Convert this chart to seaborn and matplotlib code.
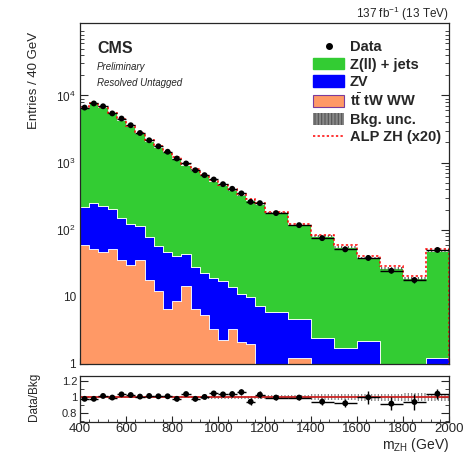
import numpy as np
import pandas as pd
import matplotlib
matplotlib.use("Agg")
import matplotlib.pyplot as plt
import seaborn as sns
from matplotlib.patches import Patch
from matplotlib.lines import Line2D
from matplotlib.ticker import LogLocator, NullFormatter, FixedLocator, MultipleLocator, FuncFormatter

# ---------------- data ----------------
bin_edges = [400, 440, 480, 520, 560, 600, 640, 680, 720, 760, 800, 840, 880, 920,
             960, 1000, 1040, 1080, 1120, 1160, 1200, 1300, 1400, 1500, 1600,
             1700, 1800, 1900, 2000]

data = [6600, 7600, 6900, 5400, 4530, 3600, 2760, 2150, 1750, 1450, 1150, 970,
        770, 650, 560, 477, 407, 348, 260, 249, 177, 117, 75, 51, 38, 24.5, 17.8, 50]

zjets = [6516, 7509, 6563, 5213, 4220, 3378, 2628, 2036, 1673, 1383, 1134, 892,
         757, 624, 516, 443, 377, 316, 265, 234, 172, 112, 77, 53, 36, 25.8, 18.2, 46.8]

zv = [159, 195, 180, 155, 114, 92, 76, 61, 44.6, 40.4, 32.4, 28.5, 21.5, 17.7,
      15.5, 14.9, 10.7, 8.85, 7.8, 6.7, 5.5, 3.46, 2.1, 1.45, 1.9, 0.5, 0.5, 0.94]

ttbar = [60, 51, 47, 52, 36, 30, 36, 18, 12.4, 6.6, 8.6, 14.5, 6.5, 5.3, 3.3, 2.3,
         3.3, 2.15, 2.0, 0.5, 0.5, 1.24, 0.3, 0.3, 0.3, 0.3, 0.3, 0.3]

alp_x20 = [50, 55, 55, 45, 40, 35, 30, 26, 22, 20, 18, 16, 14, 13, 12, 11, 10, 9,
           8.5, 8, 7, 6, 4.5, 3.5, 3, 2.2, 1.8, 3]

ratio = [0.98, 0.98, 1.016, 0.996, 1.036, 1.028, 1.008, 1.016, 1.012, 1.012, 0.98,
         1.04, 0.98, 1.004, 1.048, 1.036, 1.04, 1.064, 0.944, 1.032, 0.996, 0.996,
         0.944, 0.924, 1.0, 0.92, 0.94, 1.044]

ratio_err = [0.012, 0.012, 0.013, 0.014, 0.015, 0.016, 0.018, 0.02, 0.022, 0.024,
             0.026, 0.028, 0.03, 0.032, 0.033, 0.035, 0.037, 0.04, 0.042, 0.043,
             0.03, 0.035, 0.045, 0.05, 0.08, 0.08, 0.1, 0.06]

bkg_unc = [0.01, 0.01, 0.01, 0.01, 0.01, 0.01, 0.01, 0.012, 0.012, 0.012, 0.014,
           0.014, 0.015, 0.016, 0.017, 0.018, 0.019, 0.02, 0.02, 0.021, 0.022,
           0.024, 0.035, 0.035, 0.045, 0.045, 0.05, 0.045]

proc_names = ["Z(ll) + jets", "ZV", "tt tW WW"]
proc_colors = ["#33cc33", "#0000ff", "#ff9966"]

# ---------------- derived arrays ----------------
edges = np.array(bin_edges, dtype=float)
centers = 0.5 * (edges[:-1] + edges[1:])
halfw = 0.5 * np.diff(edges)
n = len(centers)
total = np.array(zjets) + np.array(zv) + np.array(ttbar)
data_a = np.array(data)
ratio_a = np.array(ratio)
rerr = np.array(ratio_err)
unc = np.array(bkg_unc)

df = pd.DataFrame({
    "x": np.tile(centers, 3),
    "w": np.concatenate([zjets, zv, ttbar]),
    "proc": np.repeat(proc_names, n),
})

# ---------------- figure ----------------
W, H = 477, 455
sns.set_style("ticks")
plt.rcParams["font.family"] = ["Liberation Sans", "DejaVu Sans"]
plt.rcParams["mathtext.fontset"] = "custom"
plt.rcParams["mathtext.rm"] = "Liberation Sans"
plt.rcParams["mathtext.it"] = "Liberation Sans:italic"
plt.rcParams["mathtext.bf"] = "Liberation Sans:bold"
plt.rcParams["hatch.linewidth"] = 0.8
fig = plt.figure(figsize=(W / 100, H / 100), dpi=100)

def px_axes(l, t, r, b):
    return [l / W, 1 - b / H, (r - l) / W, (b - t) / H]

ax = fig.add_axes(px_axes(80, 23, 449, 364))
axr = fig.add_axes(px_axes(80, 376, 449, 422), sharex=ax)

sns.histplot(data=df, x="x", weights="w", hue="proc", hue_order=proc_names,
             bins=list(bin_edges), multiple="stack", element="step", fill=True,
             alpha=1, palette=proc_colors, linewidth=0.6, legend=False, ax=ax)
ax.set_yscale("log")

# background uncertainty band
lo = np.append(total * (1 - unc), total[-1] * (1 - unc[-1]))
hi = np.append(total * (1 + unc), total[-1] * (1 + unc[-1]))
ax.fill_between(edges, lo, hi, step="post", facecolor="none",
                edgecolor="#555555", hatch="|||||", linewidth=0)

# signal dotted line (stacked on background)
sig_top = total + np.array(alp_x20)
ax.stairs(sig_top, edges, color="red", linestyle=(0, (1.5, 1.5)), linewidth=1.1)

# data
derr = data_a * rerr / ratio_a
ax.errorbar(centers, data_a, yerr=derr, xerr=halfw, fmt="none",
            ecolor="black", elinewidth=1.0, capsize=0, zorder=5)
sns.scatterplot(x=centers, y=data_a, color="black", s=18, edgecolor="none",
                ax=ax, zorder=6)

ax.set_xlim(400, 2000)
ax.set_ylim(1, 1.2e5)
ax.set_xlabel("")
ax.set_ylabel("Entries / 40 GeV", loc="top", fontsize=9.5)

def logfmt(v, pos):
    if v == 1:
        return "1"
    if v == 10:
        return "10"
    e = int(round(np.log10(v)))
    return r"$10^{%d}$" % e

ax.yaxis.set_major_locator(FixedLocator([1, 10, 100, 1000, 10000]))
ax.yaxis.set_major_formatter(FuncFormatter(logfmt))
ax.yaxis.set_minor_locator(LogLocator(base=10, subs=np.arange(2, 10), numticks=20))
ax.yaxis.set_minor_formatter(NullFormatter())
ax.tick_params(axis="y", which="major", direction="in", length=6, width=0.8,
               right=True, labelsize=8.5, pad=3)
ax.tick_params(axis="y", which="minor", direction="in", length=3, width=0.6, right=True)
ax.tick_params(axis="x", which="both", direction="in", labelbottom=False, length=4)
for s in ax.spines.values():
    s.set_linewidth(0.9)
    s.set_zorder(10)

# texts
ax.text(0.046, 0.924, "CMS", transform=ax.transAxes, fontsize=11.5,
        fontweight="bold", va="center", ha="left")
ax.text(0.046, 0.871, "Preliminary", transform=ax.transAxes, fontsize=7,
        fontstyle="italic", va="center", ha="left")
ax.text(0.046, 0.824, "Resolved Untagged", transform=ax.transAxes, fontsize=7,
        fontstyle="italic", va="center", ha="left")
ax.text(1.0, 1.026, r"137 fb$^{-1}$ (13 TeV)", transform=ax.transAxes,
        fontsize=8.5, ha="right", va="center")

# legend
handles = [
    Line2D([], [], marker="o", color="black", linestyle="none", markersize=4),
    Patch(facecolor=proc_colors[0], edgecolor=proc_colors[0]),
    Patch(facecolor=proc_colors[1], edgecolor=proc_colors[1]),
    Patch(facecolor=proc_colors[2], edgecolor="#7a3c9c", linewidth=0.8),
    Patch(facecolor="#888888", edgecolor="#555555", hatch="|||||", linewidth=0),
    Line2D([], [], color="red", linestyle=(0, (1.5, 1.5)), linewidth=1.1),
]
labels = ["Data", "Z(ll) + jets", "ZV", r"t$\bar{\mathbf{t}}$ tW WW", "Bkg. unc.",
          "ALP ZH (x20)"]
leg = ax.legend(handles, labels, loc="upper left", bbox_to_anchor=(0.632, 0.95),
                frameon=False, borderpad=0, borderaxespad=0, handlelength=2.1,
                handleheight=0.85, handletextpad=0.42, labelspacing=0.24,
                prop={"weight": "bold", "size": 10.5})

# ---------------- ratio panel ----------------
rlo = np.append(1 - unc, 1 - unc[-1])
rhi = np.append(1 + unc, 1 + unc[-1])
axr.fill_between(edges, rlo, rhi, step="post", facecolor="none",
                 edgecolor="#777777", hatch="|||||", linewidth=0)
axr.axhline(1.0, color="#cc2222", linewidth=1.3, zorder=3)
axr.errorbar(centers, ratio_a, yerr=rerr, xerr=halfw, fmt="none",
             ecolor="black", elinewidth=1.0, capsize=0, zorder=5)
sns.scatterplot(x=centers, y=ratio_a, color="black", s=18, edgecolor="none",
                ax=axr, zorder=6)
axr.set_ylim(0.69, 1.266)
axr.set_xlim(400, 2000)
axr.yaxis.set_major_locator(FixedLocator([0.8, 1.0, 1.2]))
axr.yaxis.set_major_formatter(FuncFormatter(lambda v, p: "%g" % v))
axr.yaxis.set_minor_locator(MultipleLocator(0.1))
axr.xaxis.set_major_locator(MultipleLocator(200))
axr.xaxis.set_minor_locator(MultipleLocator(40))
axr.tick_params(axis="y", which="major", direction="in", length=6, width=0.8,
                right=True, labelsize=8, pad=2)
axr.tick_params(axis="y", which="minor", direction="in", length=3, width=0.6, right=True)
axr.tick_params(axis="x", which="major", direction="in", length=4, labelsize=9.5, pad=0.5)
axr.tick_params(axis="x", which="minor", direction="in", length=2)
axr.set_ylabel("Data/Bkg", fontsize=8.5)
axr.set_xlabel("")
for s in axr.spines.values():
    s.set_linewidth(0.9)
    s.set_zorder(10)

fig.text(449 / W, 1 - 445 / H, r"m$_{\rm ZH}$ (GeV)", fontsize=10,
         ha="right", va="center")

ax.yaxis.set_label_coords(-0.108, 0.974)
axr.yaxis.set_label_coords(-0.108, 0.55)

fig.savefig("out.png", dpi=100)
